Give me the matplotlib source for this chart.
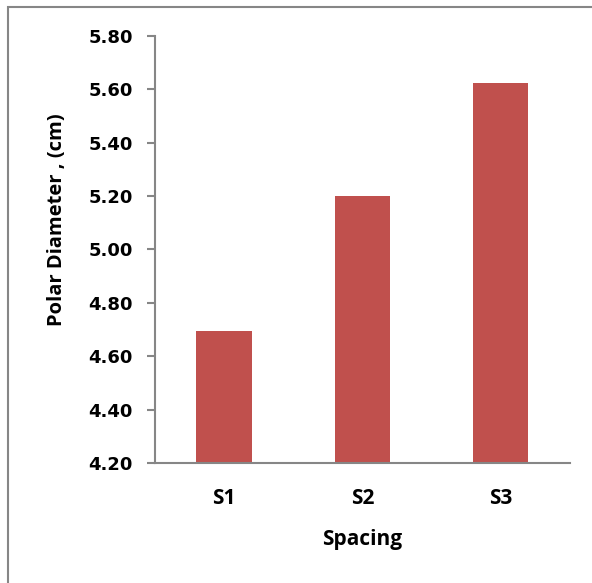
from matplotlib import pyplot as plt
from matplotlib.patches import Rectangle

spacing = ["S1", "S2", "S3"]
polar_diameter = [4.695, 5.20, 5.625]
y_ticks = [4.20, 4.40, 4.60, 4.80, 5.00, 5.20, 5.40, 5.60, 5.80]

bar_color = "#C0504D"
axis_color = "#868686"
label_font = "Open Sans"


def polar_chart():
    fig = plt.figure(figsize=(5.92, 5.83), dpi=100)
    ax = fig.add_axes([0.2618, 0.2058, 0.701, 0.7325])

    x = list(range(len(spacing)))
    ax.bar(x, [v - y_ticks[0] for v in polar_diameter], width=0.4,
           bottom=y_ticks[0], color=bar_color)

    ax.set_xlim(-0.5, len(spacing) - 0.5)
    ax.set_ylim(y_ticks[0], y_ticks[-1])
    ax.set_yticks(y_ticks)
    ax.set_yticklabels(["%.2f" % t for t in y_ticks],
                       fontfamily="DejaVu Sans", fontweight="bold", fontsize=13)
    ax.set_xticks(x)
    ax.set_xticklabels(spacing, fontfamily=label_font, fontweight="bold",
                       fontsize=15)

    for side in ("top", "right"):
        ax.spines[side].set_visible(False)
    for side in ("left", "bottom"):
        ax.spines[side].set_color(axis_color)
        ax.spines[side].set_linewidth(1.5)

    ax.tick_params(axis="y", direction="out", length=6, width=1.5,
                   color=axis_color, pad=10)
    ax.tick_params(axis="x", length=0, pad=18)

    ax.set_xlabel("Spacing", fontfamily=label_font, fontweight="bold",
                  fontsize=15)
    ax.xaxis.set_label_coords(0.5, -0.155)
    ax.set_ylabel("Polar Diameter , (cm)", fontfamily=label_font,
                  fontweight="bold", fontsize=14.5)
    ax.yaxis.set_label_coords(-0.212, 0.569)

    # chart-area frame
    fig.patches.append(Rectangle((8 / 592, -0.02), 1.0, 1 - 7 / 583 + 0.02,
                                 transform=fig.transFigure, fill=False,
                                 edgecolor=axis_color, linewidth=1.5))

    fig.savefig("out.png", dpi=100)


if __name__ == "__main__":
    polar_chart()
